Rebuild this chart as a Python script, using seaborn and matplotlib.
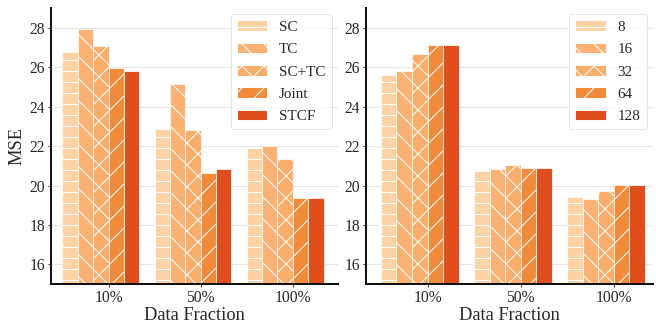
import numpy as np
import pandas as pd
import matplotlib
matplotlib.use("Agg")
import matplotlib.pyplot as plt
import matplotlib.patches as mpatches
import seaborn as sns

fractions = ["10%", "50%", "100%"]

# left panel: components
methods = ["SC", "TC", "SC+TC", "Joint", "STCF"]
mse_methods = {
    "SC":    [26.76, 22.85, 21.94],
    "TC":    [27.95, 25.13, 22.00],
    "SC+TC": [27.10, 22.80, 21.37],
    "Joint": [25.97, 20.63, 19.36],
    "STCF":  [25.82, 20.86, 19.37],
}

# right panel: sizes
sizes = ["8", "16", "32", "64", "128"]
mse_sizes = {
    "8":   [25.60, 20.76, 19.41],
    "16":  [25.82, 20.86, 19.34],
    "32":  [26.67, 21.06, 19.70],
    "64":  [27.13, 20.91, 20.04],
    "128": [27.13, 20.91, 20.04],
}

colors = ["#fdd3a5", "#f9b274", "#f9ad6b", "#f08b3b", "#df4f1e"]
hatches = ["-", "\\", "x", "/", ""]

sns.set_style("ticks")
plt.rcParams["font.family"] = ["Liberation Serif", "DejaVu Serif"]
plt.rcParams["hatch.linewidth"] = 1.1

DPI = 66
fig, axes = plt.subplots(1, 2, figsize=(656 / DPI, 324 / DPI), dpi=DPI)
plt.subplots_adjust(left=0.078, right=0.995, bottom=0.123, top=0.975, wspace=0.10)


def draw(ax, names, values, xlim):
    df = pd.DataFrame([(f, n, values[n][i]) for n in names for i, f in enumerate(fractions)],
                      columns=["frac", "name", "mse"])
    sns.barplot(data=df, x="frac", y="mse", hue="name", hue_order=names, order=fractions,
                palette=colors, saturation=1, width=0.835, gap=0, edgecolor="white",
                linewidth=0.8, legend=False, ax=ax, zorder=2)
    for cont, h in zip(ax.containers, hatches):
        for bar in cont:
            bar.set_hatch(h)
    handles = [mpatches.Patch(facecolor=c, edgecolor="white", hatch=h, label=n)
               for c, h, n in zip(colors, hatches, names)]
    leg = ax.legend(handles=handles, loc="upper right", fontsize=16.5, frameon=True,
                    borderaxespad=0.4, handlelength=2.0, labelspacing=0.58)
    leg.get_frame().set_edgecolor("#dddddd")
    ax.set_ylim(15, 29)
    ax.set_xlim(*xlim)
    ax.set_yticks(np.arange(16, 29, 2))
    w = 0.835 / 5
    ax.set_xticks(np.arange(3) + w / 2, fractions)
    ax.yaxis.grid(True, color="#e6e6e6", linewidth=1.2, zorder=0)
    ax.set_axisbelow(True)
    ax.tick_params(labelsize=17, length=3, width=1)
    ax.set_xlabel("Data Fraction", fontsize=20, labelpad=1)
    ax.set_ylabel("")
    sns.despine(ax=ax)
    for s in ["left", "bottom"]:
        ax.spines[s].set_linewidth(2.2)
        ax.spines[s].set_color("#111111")


draw(axes[0], methods, mse_methods, (-0.54, 2.57))
draw(axes[1], sizes, mse_sizes, (-0.575, 2.50))
axes[0].set_ylabel("MSE", fontsize=20)

plt.savefig("out.png", dpi=DPI)
